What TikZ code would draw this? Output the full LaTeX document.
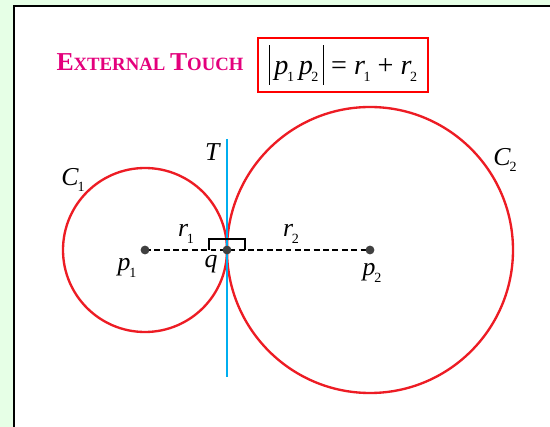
\documentclass[tikz,border=0pt]{standalone}
\usepackage{fontspec}
\setmainfont{Liberation Serif}
\usetikzlibrary{calc}
\definecolor{bggreen}{HTML}{E6FFE6}
\definecolor{titlepink}{HTML}{E4007C}
\definecolor{circred}{HTML}{ED1C24}
\definecolor{tanblue}{HTML}{00AEEF}
\newcommand{\ivar}[2]{\textit{#1}\kern-0.05em\raisebox{-0.25em}{\fontsize{12}{13}\selectfont #2}}
\newcommand{\tallbar}{\rule[-0.35em]{0.8pt}{1.4em}}

\begin{document}
\begin{tikzpicture}[x=0.03cm,y=-0.03cm,
  circ/.style={draw=circred,line width=2pt},
  dot/.style={circle,fill=black!75,inner sep=0pt,minimum size=7.5pt},
  lbl/.style={font=\fontsize{22}{24}\selectfont,inner sep=1pt},
  arr/.style={dashed,line width=1.4pt,dash pattern=on 5pt off 3pt}]
\useasboundingbox (0,0) rectangle (550,427);
\fill[bggreen] (0,0) rectangle (550,427);
\fill[white] (14,6) rectangle (552,429);
\draw[line width=2.4pt] (14,432) |- (555,6);
% title and formula
\node[text=titlepink,font=\bfseries] (title) at (150,62)
  {\fontsize{22}{24}\selectfont E\fontsize{16}{18}\selectfont XTERNAL
   \fontsize{22}{24}\selectfont T\fontsize{16}{18}\selectfont OUCH};
\node[draw=red,line width=1.9pt,minimum width=5.1cm,minimum height=1.6cm,
  font=\fontsize{24}{26}\selectfont] (rule) at (343,65)
  {\tallbar\,\ivar{p}{1}\,\ivar{p}{2}\,\tallbar\ = \ivar{r}{1} + \ivar{r}{2}};
% centres and touching point
\coordinate (p1) at (145,250);
\coordinate (p2) at (370,250);
\coordinate (q)  at (227,250);
\coordinate (ttop) at (227,139);
\coordinate (tbot) at (227,377);
\draw[circ] (p1) circle[radius=82];
\draw[circ] (p2) circle[radius=143];
\draw[tanblue,line width=2.2pt] (ttop) -- (tbot);
\draw[arr] (p1) -- (p2);
\draw[line width=1pt] ($(q)+(-18,0)$) -- ++(0,-11) -- ++(36,0) -- ++(0,11);
\node[dot] (d1) at (p1) {};
\node[dot] (d2) at (p2) {};
\node[dot] (dq) at (q) {};
% labels
\node[lbl] (lt)  at (213,152) {\textit{T}};
\node[lbl] (lc1) at (73,180)  {\ivar{C}{1}};
\node[lbl] (lc2) at (505,160) {\ivar{C}{2}};
\node[lbl] (lr1) at (186,234) {\ivar{r}{1}};
\node[lbl] (lr2) at (291,234) {\ivar{r}{2}};
\node[lbl] (lp1) at (127,268) {\ivar{p}{1}};
\node[lbl] (lq)  at (211,264) {\textit{q}};
\node[lbl] (lp2) at (372,273) {\ivar{p}{2}};
\end{tikzpicture}
\end{document}
